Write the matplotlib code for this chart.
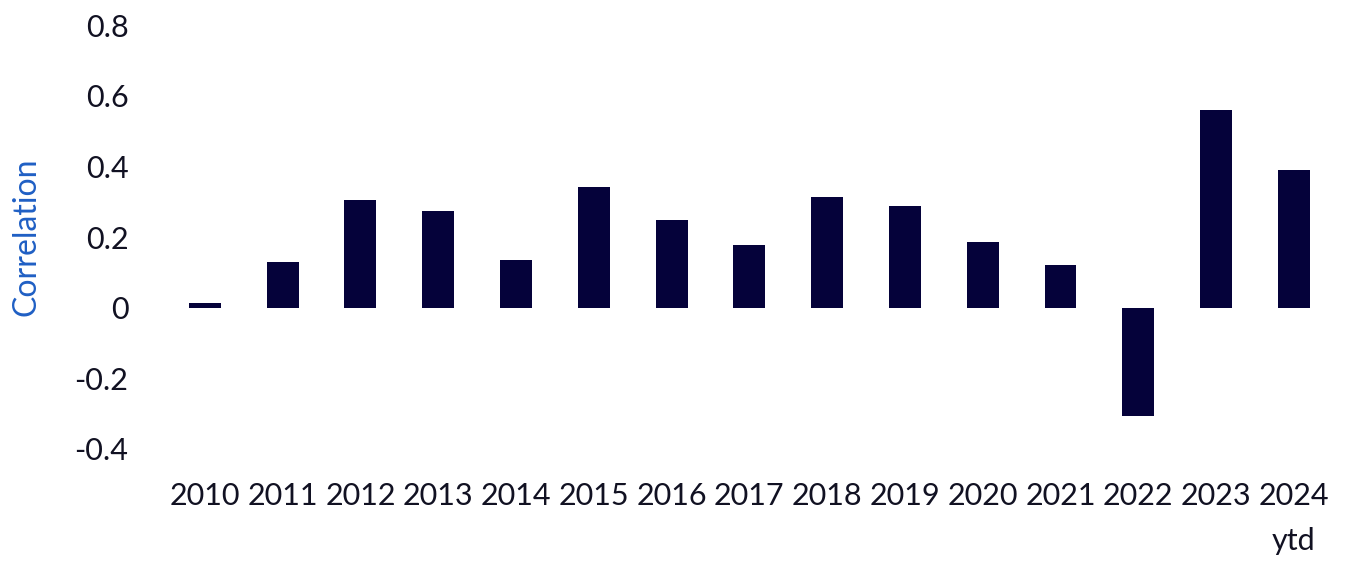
import matplotlib
matplotlib.use("Agg")
from matplotlib import pyplot as plt

plt.rcParams['font.family'] = ['Lato', 'DejaVu Sans']

years = ["2010", "2011", "2012", "2013", "2014", "2015", "2016", "2017",
         "2018", "2019", "2020", "2021", "2022", "2023", "2024\nytd"]
corr = [0.013, 0.129, 0.305, 0.274, 0.134, 0.343, 0.249, 0.178,
        0.314, 0.289, 0.187, 0.122, -0.308, 0.56, 0.39]

fig = plt.figure(figsize=(13.49, 5.61), dpi=100)
ax = fig.add_axes([0.123, 0.2, 0.865, 0.755])

x = list(range(len(years)))
ax.bar(x, corr, width=0.41, color="#05023a")

ax.set_xlim(-0.5, len(years) - 0.5)
ax.set_ylim(-0.4, 0.8)
ax.set_yticks([-0.4, -0.2, 0, 0.2, 0.4, 0.6, 0.8])
ax.set_yticklabels(["-0.4", "-0.2", "0", "0.2", "0.4", "0.6", "0.8"])
ax.set_xticks(x)
ax.set_xticklabels(years, linespacing=1.75)

ax.tick_params(axis="both", length=0, labelsize=22, colors="#111122")
ax.tick_params(axis="y", pad=27)
ax.tick_params(axis="x", pad=24)
for s in ax.spines.values():
    s.set_visible(False)

ax.set_ylabel("Correlation", color="#1f5fc4", fontsize=23, labelpad=24)

fig.savefig("out.png", dpi=100)
